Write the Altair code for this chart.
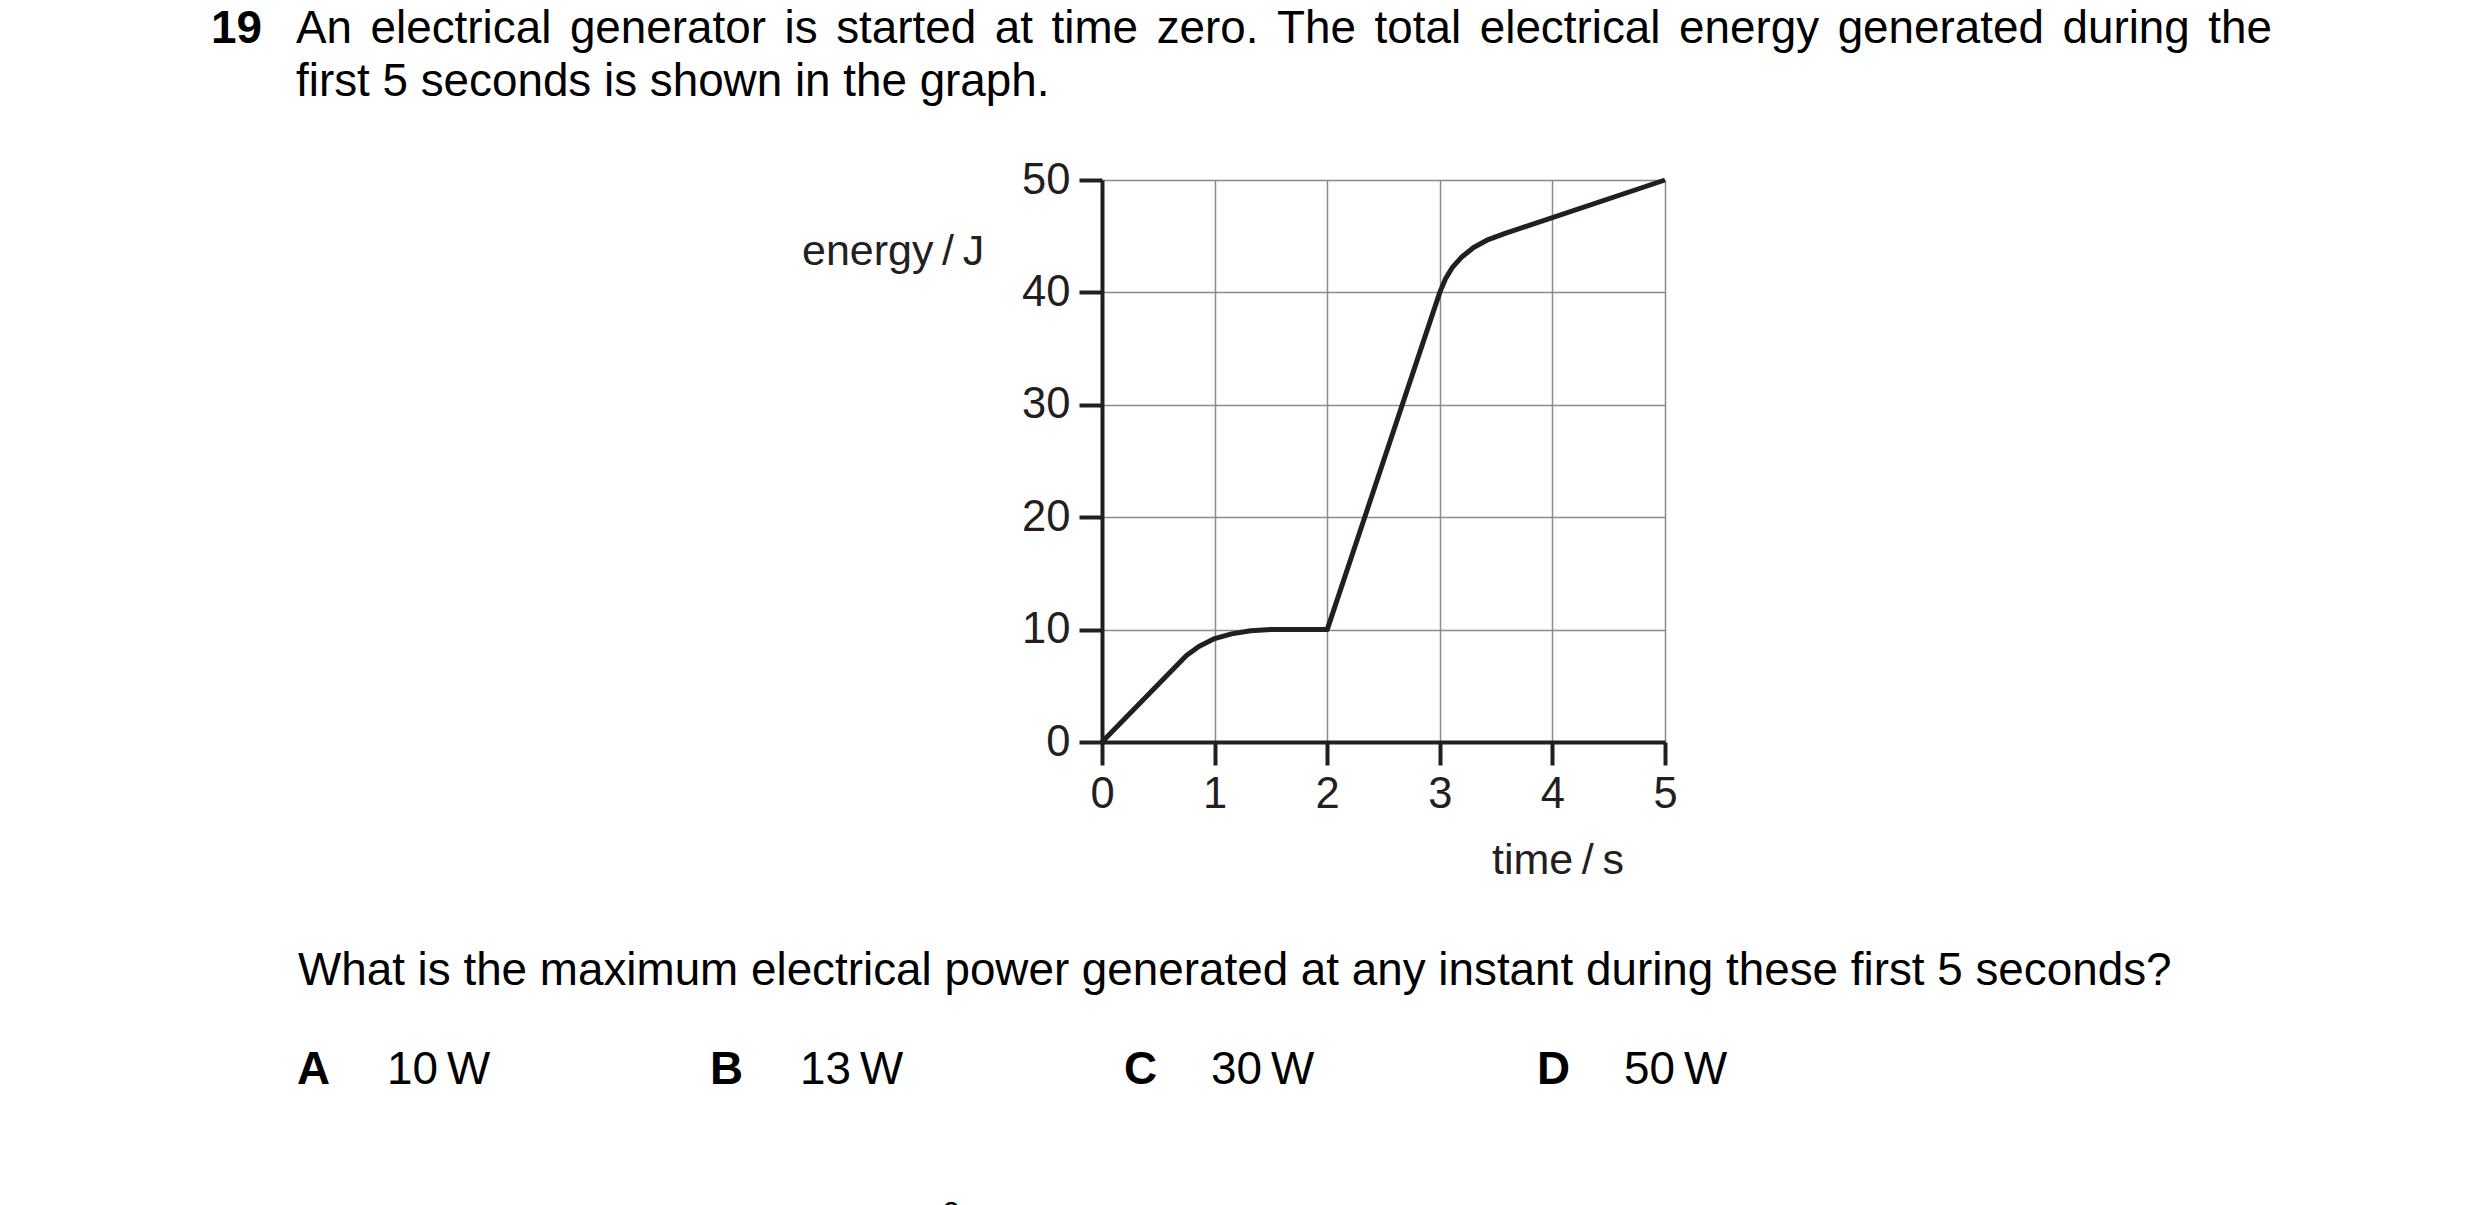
import altair as alt
import pandas as pd

# curve
time_s = [0, 0.75, 0.86, 1.0, 1.15, 1.32, 1.5, 2.0, 3.0, 3.05, 3.11, 3.19, 3.3, 3.43, 3.58, 5.0]
energy_j = [0, 7.7, 8.5, 9.2, 9.62, 9.9, 10, 10, 40, 41.2, 42.2, 43.1, 44.0, 44.7, 45.25, 50]

x_ticks = [0, 1, 2, 3, 4, 5]
y_ticks = [0, 10, 20, 30, 40, 50]

question_no = "19"
intro_line1 = "An electrical generator is started at time zero. The total electrical energy generated during the"
intro_line2 = "first 5 seconds is shown in the graph."
ask = "What is the maximum electrical power generated at any instant during these first 5 seconds?"
option_letters = ["A", "B", "C", "D"]
option_values = ["10\u2009W", "13\u2009W", "30\u2009W", "50\u2009W"]
y_title = "energy\u2009/\u2009J"
x_title = "time\u2009/\u2009s"

FONT = "Liberation Sans"
INK = "#231f20"
TEXT_SIZE = 45.8

# Arial / Liberation Sans advance widths (1/1000 em), for justifying line 1
ARIAL = {'A': 667, 'T': 611, 'a': 556, 'c': 500, 'd': 556, 'e': 556, 'g': 556,
         'h': 556, 'i': 222, 'l': 222, 'm': 833, 'n': 556, 'o': 556, 'r': 333,
         's': 500, 't': 278, 'u': 556, 'y': 500, 'z': 500, '.': 278}


def text_width(s, size):
    return sum(ARIAL[c] for c in s) * size / 1000


def label(text, x, y, size=TEXT_SIZE, weight='normal', color='#000000', align='left'):
    return alt.Chart(alt.Data(values=[{}])).mark_text(
        text=text, align=align, baseline='alphabetic', font=FONT,
        fontSize=size, fontWeight=weight, color=color
    ).encode(x=alt.value(x), y=alt.value(y))


df = pd.DataFrame({'time': time_s, 'energy': energy_j})

axis_style = dict(
    grid=True, gridColor='#8a8a8a', gridWidth=1.5,
    domainColor=INK, domainWidth=4,
    tickColor=INK, tickWidth=4, tickSize=23,
    labelFont=FONT, labelFontSize=43.5, labelColor=INK,
    labelFlush=False, title=None,
)

curve = alt.Chart(df).mark_line(color=INK, strokeWidth=5, strokeJoin='round').encode(
    x=alt.X('time:Q', scale=alt.Scale(domain=[0, 5], nice=False),
            axis=alt.Axis(values=x_ticks, labelPadding=8, **axis_style)),
    y=alt.Y('energy:Q', scale=alt.Scale(domain=[0, 50], nice=False),
            axis=alt.Axis(values=y_ticks, labelPadding=9, **axis_style)),
)

layers = [curve]

# justified first line of the question
left, right = -806, 1170
words = intro_line1.split()
gap = (right - left - sum(text_width(w, TEXT_SIZE) for w in words)) / (len(words) - 1)
xpos = left
for w in words:
    layers.append(label(w, xpos, -137))
    xpos += text_width(w, TEXT_SIZE) + gap

layers += [
    label(question_no, -891, -137, TEXT_SIZE, 'bold'),
    label(intro_line2, -806, -84),
    label(y_title, -300, 85, 43, color=INK),
    label(x_title, 390, 694, 43, color=INK),
    label(ask, -804, 805),
]

letter_x = [-805, -392, 22, 435]
value_x = [-715, -302, 109, 522]
for lt, lx, vt, vx in zip(option_letters, letter_x, option_values, value_x):
    layers.append(label(lt, lx, 904, TEXT_SIZE, 'bold'))
    layers.append(label(vt, vx, 904))

layers.append(label("2", -151, 1042, 30, align='center'))

chart = alt.layer(*layers).properties(
    width=563,
    height=562,
    autosize=alt.AutoSizeParams(type='none'),
    padding={'left': 1094, 'top': 172, 'right': 807, 'bottom': 500},
    background='white',
).configure_view(stroke=None)

chart.save("out.html", embed_options={"renderer": "svg", "actions": False})
